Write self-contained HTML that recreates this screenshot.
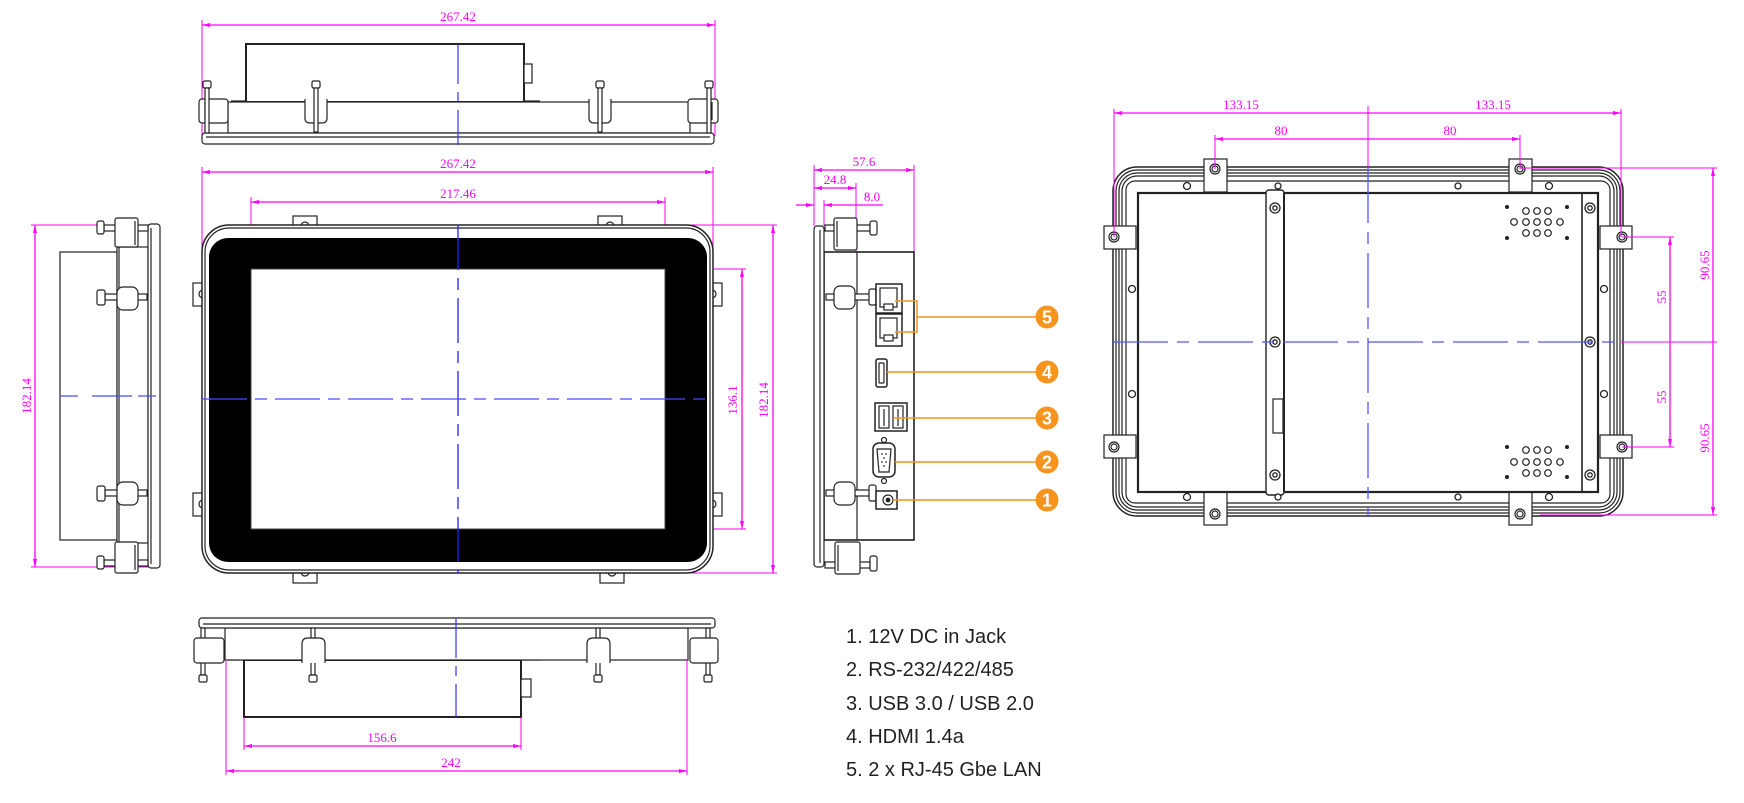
<!DOCTYPE html>
<html><head><meta charset="utf-8">
<style>
html,body{margin:0;padding:0;background:#fff;}
svg{display:block}
.d{font-family:"Liberation Serif",serif;font-size:13px;fill:#ff00ff;}
.lg{font-family:"Liberation Sans",sans-serif;font-size:20px;fill:#231f20;}
.n{font-family:"Liberation Sans",sans-serif;font-size:18px;font-weight:bold;fill:#fff;}
</style></head><body>
<svg width="1744" height="803" viewBox="0 0 1744 803" xmlns="http://www.w3.org/2000/svg">
<defs>
<marker id="a" markerWidth="8" markerHeight="6" refX="8" refY="3" orient="auto-start-reverse" markerUnits="userSpaceOnUse"><path d="M0,1 L8,3 L0,5 z" fill="#ff00ff"/></marker>
</defs>

<!-- ================= TOP VIEW ================= -->
<g fill="none" stroke="#ff00ff" stroke-width="1.3">
  <line x1="202" y1="25" x2="715" y2="25" marker-start="url(#a)" marker-end="url(#a)"/>
  <line x1="202" y1="20" x2="202" y2="136" stroke-width="1"/>
  <line x1="715" y1="20" x2="715" y2="136" stroke-width="1"/>
</g>
<text class="d" x="458" y="21" text-anchor="middle">267.42</text>
<g fill="#fff" stroke="#222" stroke-width="1.2">
  <rect x="246" y="44" width="278" height="58" stroke-width="2"/>
  <rect x="524" y="64" width="8" height="19"/>
  <line x1="231" y1="101" x2="246" y2="101"/>
  <line x1="524" y1="101" x2="540" y2="101"/>
  <rect x="228" y="102" width="462" height="31"/>
  <rect x="202" y="133" width="512" height="11" rx="3"/>
  <line x1="206" y1="137" x2="710" y2="137"/>
  <rect x="199" y="99" width="29" height="24" rx="3"/>
  <rect x="688" y="99" width="30" height="24" rx="3"/>
  <line x1="205" y1="102" x2="205" y2="120"/>
  <line x1="712" y1="102" x2="712" y2="120"/>
  <!-- clips -->
  <path d="M305,99 v19 q0,5 5,5 h12 q5,0 5,-5 v-19"/>
  <path d="M589,99 v19 q0,5 5,5 h12 q5,0 5,-5 v-19"/>
  <!-- screws -->
  <rect x="203" y="81" width="8" height="7" rx="1.5"/><rect x="205" y="88" width="4" height="45"/>
  <rect x="312" y="81" width="8" height="7" rx="1.5"/><rect x="314" y="88" width="4" height="44"/>
  <rect x="596" y="81" width="8" height="7" rx="1.5"/><rect x="598" y="88" width="4" height="44"/>
  <rect x="705" y="81" width="8" height="7" rx="1.5"/><rect x="707" y="88" width="4" height="45"/>
</g>
<line x1="458" y1="44" x2="458" y2="145" stroke="#3333ff" stroke-width="1.2" stroke-dasharray="40 8 10 8"/>

<!-- ================= FRONT VIEW ================= -->
<g fill="none" stroke="#ff00ff" stroke-width="1.3">
  <line x1="202" y1="172" x2="713" y2="172" marker-start="url(#a)" marker-end="url(#a)"/>
  <line x1="202" y1="167" x2="202" y2="252" stroke-width="1"/>
  <line x1="713" y1="167" x2="713" y2="252" stroke-width="1"/>
  <line x1="251" y1="202" x2="665" y2="202" marker-start="url(#a)" marker-end="url(#a)"/>
  <line x1="251" y1="197" x2="251" y2="269" stroke-width="1"/>
  <line x1="665" y1="197" x2="665" y2="269" stroke-width="1"/>
  <line x1="742" y1="269" x2="742" y2="529" marker-start="url(#a)" marker-end="url(#a)"/>
  <line x1="665" y1="269" x2="746" y2="269" stroke-width="1"/>
  <line x1="665" y1="529" x2="746" y2="529" stroke-width="1"/>
  <line x1="773" y1="225" x2="773" y2="573" marker-start="url(#a)" marker-end="url(#a)"/>
  <line x1="686" y1="225" x2="777" y2="225" stroke-width="1"/>
  <line x1="686" y1="573" x2="777" y2="573" stroke-width="1"/>
</g>
<text class="d" x="458" y="168" text-anchor="middle">267.42</text>
<text class="d" x="458" y="198" text-anchor="middle">217.46</text>
<text class="d" transform="translate(737,400) rotate(-90)" text-anchor="middle">136.1</text>
<text class="d" transform="translate(768,400) rotate(-90)" text-anchor="middle">182.14</text>
<g fill="#fff" stroke="#222" stroke-width="1.2">
  <!-- tabs -->
  <rect x="293" y="216" width="24" height="11"/><path d="M301,226 a4,4 0 0 1 8,0"/>
  <rect x="598" y="216" width="24" height="11"/><path d="M606,226 a4,4 0 0 1 8,0"/>
  <rect x="293" y="571" width="24" height="12"/><path d="M301,572 a4,4 0 0 0 8,0"/>
  <rect x="600" y="571" width="24" height="12"/><path d="M608,572 a4,4 0 0 0 8,0"/>
  <rect x="193" y="283" width="11" height="23"/><path d="M203,290 a4,4 0 0 0 0,8"/>
  <rect x="193" y="493" width="11" height="23"/><path d="M203,500 a4,4 0 0 0 0,8"/>
  <rect x="711" y="283" width="11" height="23"/><path d="M712,290 a4,4 0 0 1 0,8"/>
  <rect x="711" y="493" width="11" height="23"/><path d="M712,500 a4,4 0 0 1 0,8"/>
  <!-- frame -->
  <rect x="202" y="225" width="511" height="348" rx="27" stroke-width="1.5"/>
  <rect x="205" y="228" width="505" height="342" rx="24"/>
</g>
<rect x="209" y="238" width="498" height="324" rx="19" fill="#000"/>
<rect x="251" y="269" width="414" height="260" fill="#fff" stroke="#444" stroke-width="1"/>
<line x1="458" y1="225" x2="458" y2="573" stroke="#2222ff" stroke-width="1.3" stroke-dasharray="45 8 12 8"/>
<line x1="202" y1="399" x2="713" y2="399" stroke="#4a4aff" stroke-width="1.3" stroke-dasharray="45 8 12 8"/>

<!-- ================= LEFT SIDE VIEW ================= -->
<g fill="none" stroke="#ff00ff" stroke-width="1.3">
  <line x1="35" y1="225" x2="35" y2="567" marker-start="url(#a)" marker-end="url(#a)"/>
  <line x1="31" y1="225" x2="152" y2="225" stroke-width="1"/>
  <line x1="31" y1="567" x2="152" y2="567" stroke-width="1"/>
</g>
<text class="d" transform="translate(31,396) rotate(-90)" text-anchor="middle">182.14</text>
<g fill="#fff" stroke="#222" stroke-width="1.2">
  <rect x="60" y="252" width="57" height="288"/>
  <rect x="117" y="247" width="31" height="296"/>
  <line x1="119" y1="247" x2="119" y2="543"/>
  <rect x="148" y="224" width="12" height="344" rx="3"/>
  <line x1="151" y1="228" x2="151" y2="564"/>
  <!-- top bracket -->
  <rect x="104" y="225" width="44" height="6"/>
  <rect x="97" y="221" width="7" height="13" rx="2"/>
  <rect x="115" y="218" width="23" height="29" rx="2"/>
  <line x1="135" y1="221" x2="135" y2="245"/>
  <!-- bottom bracket -->
  <rect x="104" y="560" width="44" height="6"/>
  <rect x="97" y="556" width="7" height="13" rx="2"/>
  <rect x="115" y="542" width="23" height="31" rx="2"/>
  <line x1="135" y1="545" x2="135" y2="570"/>
  <!-- mid screws -->
  <rect x="105" y="294" width="42" height="6"/>
  <rect x="97" y="290" width="8" height="15" rx="2"/>
  <rect x="117" y="287" width="21" height="23" rx="6"/>
  <rect x="105" y="490" width="42" height="6"/>
  <rect x="97" y="486" width="8" height="15" rx="2"/>
  <rect x="117" y="482" width="21" height="23" rx="6"/>
</g>
<line x1="60" y1="396" x2="160" y2="396" stroke="#4a4aff" stroke-width="1.3" stroke-dasharray="18 14 40 6"/>

<!-- ================= RIGHT SIDE VIEW ================= -->
<g fill="none" stroke="#ff00ff" stroke-width="1.3">
  <line x1="814" y1="170" x2="914" y2="170" marker-start="url(#a)" marker-end="url(#a)"/>
  <line x1="814" y1="188" x2="856" y2="188" marker-start="url(#a)" marker-end="url(#a)"/>
  <line x1="796" y1="205" x2="814" y2="205" marker-end="url(#a)"/>
  <line x1="883" y1="205" x2="824" y2="205" marker-end="url(#a)"/>
  <line x1="814" y1="165" x2="814" y2="226" stroke-width="1"/>
  <line x1="824" y1="200" x2="824" y2="226" stroke-width="1"/>
  <line x1="856" y1="183" x2="856" y2="252" stroke-width="1"/>
  <line x1="914" y1="165" x2="914" y2="252" stroke-width="1"/>
</g>
<text class="d" x="864" y="166" text-anchor="middle">57.6</text>
<text class="d" x="835" y="184" text-anchor="middle">24.8</text>
<text class="d" x="872" y="201" text-anchor="middle">8.0</text>
<g fill="#fff" stroke="#222" stroke-width="1.2">
  <rect x="824" y="252" width="90" height="288" stroke-width="1.6"/>
  <line x1="857" y1="252" x2="857" y2="540"/>
  <rect x="814" y="226" width="10" height="341" rx="3"/>
  <line x1="820" y1="230" x2="820" y2="563"/>
  <!-- top bracket -->
  <rect x="825" y="225" width="45" height="6"/>
  <rect x="870" y="221" width="7" height="14" rx="2"/>
  <rect x="834" y="218" width="23" height="32" rx="2"/>
  <line x1="837" y1="221" x2="837" y2="247"/>
  <!-- bottom bracket -->
  <rect x="825" y="562" width="45" height="6"/>
  <rect x="870" y="556" width="7" height="15" rx="2"/>
  <rect x="835" y="542" width="25" height="32" rx="2"/>
  <line x1="838" y1="545" x2="838" y2="571"/>
  <!-- mid screws -->
  <rect x="826" y="294" width="46" height="6"/>
  <rect x="869" y="289" width="7" height="16" rx="2"/>
  <rect x="834" y="286" width="21" height="23" rx="6"/>
  <rect x="826" y="490" width="46" height="6"/>
  <rect x="869" y="485" width="7" height="16" rx="2"/>
  <rect x="834" y="482" width="21" height="23" rx="6"/>
  <!-- RJ45 -->
  <rect x="876" y="284" width="26" height="29" stroke-width="1.5"/>
  <rect x="880" y="288" width="17" height="19"/>
  <rect x="884" y="304" width="9" height="6"/>
  <rect x="876" y="314" width="26" height="32" stroke-width="1.5"/>
  <rect x="880" y="318" width="17" height="20"/>
  <rect x="884" y="335" width="9" height="6"/>
  <!-- HDMI -->
  <rect x="876" y="359" width="11" height="28" rx="2" stroke-width="1.5"/>
  <rect x="879" y="363" width="5" height="20" rx="1"/>
  <!-- USB -->
  <rect x="875" y="403" width="32" height="28" stroke-width="1.5"/>
  <rect x="879" y="406" width="10" height="22"/>
  <rect x="893" y="406" width="10" height="22"/>
  <line x1="884" y1="409" x2="884" y2="426"/>
  <line x1="898" y1="409" x2="898" y2="426"/>
  <!-- DB9 -->
  <circle cx="884" cy="440" r="2.5"/>
  <circle cx="884" cy="481" r="2.5"/>
  <rect x="873" y="443" width="22" height="34" rx="6" stroke-width="1.5"/>
  <path d="M877,449 L891,449 L889,472 L879,472 Z"/>
  <!-- DC -->
  <rect x="876" y="491" width="21" height="18" stroke-width="1.5"/>
  <circle cx="888" cy="500" r="5"/>
  <circle cx="888" cy="500" r="1.8" fill="#222"/>
</g>
<g fill="#333">
  <circle cx="882" cy="454" r="0.9"/><circle cx="886" cy="454" r="0.9"/><circle cx="884" cy="458" r="0.9"/>
  <circle cx="882" cy="462" r="0.9"/><circle cx="886" cy="462" r="0.9"/><circle cx="884" cy="466" r="0.9"/>
</g>

<!-- orange callouts -->
<g fill="none" stroke="#f7941d" stroke-width="1.6">
  <polyline points="895,301 917,301 917,332 895,332"/>
  <line x1="917" y1="317" x2="1037" y2="317"/>
  <line x1="887" y1="372" x2="1037" y2="372"/>
  <line x1="893" y1="418" x2="1037" y2="418"/>
  <line x1="895" y1="462" x2="1037" y2="462"/>
  <line x1="893" y1="500" x2="1037" y2="500"/>
</g>
<g fill="#f7941d">
  <circle cx="1047" cy="317" r="11.5"/>
  <circle cx="1047" cy="372" r="11.5"/>
  <circle cx="1047" cy="418" r="11.5"/>
  <circle cx="1047" cy="462" r="11.5"/>
  <circle cx="1047" cy="500" r="11.5"/>
</g>
<text class="n" x="1047" y="323.5" text-anchor="middle">5</text>
<text class="n" x="1047" y="378.5" text-anchor="middle">4</text>
<text class="n" x="1047" y="424.5" text-anchor="middle">3</text>
<text class="n" x="1047" y="468.5" text-anchor="middle">2</text>
<text class="n" x="1047" y="506.5" text-anchor="middle">1</text>

<!-- ================= BOTTOM VIEW ================= -->
<g fill="#fff" stroke="#222" stroke-width="1.2">
  <rect x="244" y="660" width="277" height="57" stroke-width="2"/>
  <rect x="521" y="679" width="10" height="18"/>
  <line x1="228" y1="660" x2="244" y2="660"/>
  <line x1="521" y1="660" x2="540" y2="660"/>
  <rect x="225" y="628" width="463" height="32"/>
  <rect x="199" y="618" width="516" height="10" rx="3"/>
  <line x1="203" y1="624" x2="711" y2="624"/>
  <!-- screws -->
  <rect x="201" y="628" width="4" height="47"/><rect x="199" y="675" width="8" height="7" rx="1.5"/>
  <rect x="311" y="628" width="4" height="47"/><rect x="309" y="675" width="8" height="7" rx="1.5"/>
  <rect x="596" y="628" width="4" height="47"/><rect x="594" y="675" width="8" height="7" rx="1.5"/>
  <rect x="706" y="628" width="4" height="47"/><rect x="704" y="675" width="8" height="7" rx="1.5"/>
  <rect x="194" y="638" width="30" height="25" rx="3"/>
  <rect x="690" y="638" width="28" height="25" rx="3"/>
  <path d="M302,663 v-19 q0,-6 6,-6 h11 q6,0 6,6 v19"/>
  <path d="M587,663 v-19 q0,-6 6,-6 h11 q6,0 6,6 v19"/>
</g>
<line x1="456" y1="618" x2="456" y2="717" stroke="#3333ff" stroke-width="1.2" stroke-dasharray="40 8 10 8"/>
<g fill="none" stroke="#ff00ff" stroke-width="1.3">
  <line x1="244" y1="746" x2="521" y2="746" marker-start="url(#a)" marker-end="url(#a)"/>
  <line x1="244" y1="717" x2="244" y2="750" stroke-width="1"/>
  <line x1="521" y1="717" x2="521" y2="750" stroke-width="1"/>
  <line x1="226" y1="771" x2="687" y2="771" marker-start="url(#a)" marker-end="url(#a)"/>
  <line x1="226" y1="660" x2="226" y2="775" stroke-width="1"/>
  <line x1="687" y1="660" x2="687" y2="775" stroke-width="1"/>
</g>
<text class="d" x="382" y="742" text-anchor="middle">156.6</text>
<text class="d" x="451" y="767" text-anchor="middle">242</text>

<!-- ================= LEGEND ================= -->
<text class="lg" x="846" y="643">1. 12V DC in Jack</text>
<text class="lg" x="846" y="676">2. RS-232/422/485</text>
<text class="lg" x="846" y="710">3. USB 3.0 / USB 2.0</text>
<text class="lg" x="846" y="743">4. HDMI 1.4a</text>
<text class="lg" x="846" y="776">5. 2 x RJ-45 Gbe LAN</text>

<!-- ================= REAR VIEW ================= -->
<g fill="none" stroke="#222" stroke-width="1.2">
  <rect x="1113" y="167" width="510" height="349" rx="24" stroke-width="1.5"/>
  <rect x="1116" y="170" width="504" height="343" rx="21"/>
  <rect x="1119" y="173" width="498" height="337" rx="18"/>
  <rect x="1122" y="176" width="492" height="331" rx="15"/>
  <rect x="1126" y="181" width="484" height="322" rx="9"/>
</g>
<g fill="#fff" stroke="#222" stroke-width="1.2">
  <!-- tabs -->
  <rect x="1204" y="159" width="23" height="33"/><circle cx="1215" cy="169" r="5"/><circle cx="1215" cy="169" r="3"/>
  <rect x="1509" y="159" width="23" height="33"/><circle cx="1520" cy="169" r="5"/><circle cx="1520" cy="169" r="3"/>
  <rect x="1204" y="492" width="23" height="33"/><circle cx="1215" cy="514" r="5"/><circle cx="1215" cy="514" r="3"/>
  <rect x="1509" y="492" width="23" height="33"/><circle cx="1520" cy="514" r="5"/><circle cx="1520" cy="514" r="3"/>
  <rect x="1104" y="226" width="32" height="23"/><circle cx="1114" cy="237" r="5"/><circle cx="1114" cy="237" r="3"/>
  <rect x="1104" y="435" width="32" height="23"/><circle cx="1114" cy="447" r="5"/><circle cx="1114" cy="447" r="3"/>
  <rect x="1600" y="226" width="32" height="23"/><circle cx="1622" cy="237" r="5"/><circle cx="1622" cy="237" r="3"/>
  <rect x="1600" y="435" width="32" height="23"/><circle cx="1622" cy="447" r="5"/><circle cx="1622" cy="447" r="3"/>
  <!-- panel -->
  <rect x="1138" y="193" width="460" height="299" stroke-width="2.2"/>
  <line x1="1582" y1="193" x2="1582" y2="492" stroke-width="1.6"/>
  <rect x="1266" y="190" width="18" height="305" rx="3" stroke-width="1.4"/>
  <line x1="1284" y1="193" x2="1284" y2="492" stroke-width="2"/>
  <rect x="1273" y="399" width="10" height="34"/>
</g>
<g fill="#fff" stroke="#222" stroke-width="1.3">
  <circle cx="1275" cy="208" r="5"/><circle cx="1275" cy="208" r="2.2"/>
  <circle cx="1275" cy="342" r="5"/><circle cx="1275" cy="342" r="2.2"/>
  <circle cx="1275" cy="475" r="5"/><circle cx="1275" cy="475" r="2.2"/>
  <circle cx="1590" cy="208" r="5"/><circle cx="1590" cy="208" r="2.2"/>
  <circle cx="1590" cy="342" r="5"/><circle cx="1590" cy="342" r="2.2"/>
  <circle cx="1590" cy="475" r="5"/><circle cx="1590" cy="475" r="2.2"/>
  <circle cx="1187" cy="186" r="3.5"/><circle cx="1549" cy="186" r="3.5"/>
  <circle cx="1187" cy="497" r="3.5"/><circle cx="1549" cy="497" r="3.5"/>
  <circle cx="1132" cy="289" r="3.5"/><circle cx="1132" cy="394" r="3.5"/>
  <circle cx="1604" cy="289" r="3.5"/><circle cx="1604" cy="394" r="3.5"/>
  <circle cx="1278" cy="186" r="3"/><circle cx="1458" cy="186" r="3"/>
  <circle cx="1278" cy="497" r="3"/><circle cx="1458" cy="497" r="3"/>
</g>
<!-- vents -->
<g fill="#222">
  <circle cx="1507" cy="207" r="2"/><circle cx="1567" cy="207" r="2"/><circle cx="1507" cy="238" r="2"/><circle cx="1567" cy="238" r="2"/>
  <circle cx="1507" cy="447" r="2"/><circle cx="1567" cy="447" r="2"/><circle cx="1507" cy="477" r="2"/><circle cx="1567" cy="477" r="2"/>
</g>
<g fill="none" stroke="#222" stroke-width="1.2">
  <circle cx="1526" cy="211" r="3.3"/><circle cx="1537" cy="211" r="3.3"/><circle cx="1548" cy="211" r="3.3"/>
  <circle cx="1514" cy="222" r="3.3"/><circle cx="1526" cy="222" r="3.3"/><circle cx="1537" cy="222" r="3.3"/><circle cx="1548" cy="222" r="3.3"/><circle cx="1560" cy="222" r="3.3"/>
  <circle cx="1526" cy="233" r="3.3"/><circle cx="1537" cy="233" r="3.3"/><circle cx="1548" cy="233" r="3.3"/>
  <circle cx="1526" cy="450" r="3.3"/><circle cx="1537" cy="450" r="3.3"/><circle cx="1548" cy="450" r="3.3"/>
  <circle cx="1514" cy="462" r="3.3"/><circle cx="1526" cy="462" r="3.3"/><circle cx="1537" cy="462" r="3.3"/><circle cx="1548" cy="462" r="3.3"/><circle cx="1560" cy="462" r="3.3"/>
  <circle cx="1526" cy="473" r="3.3"/><circle cx="1537" cy="473" r="3.3"/><circle cx="1548" cy="473" r="3.3"/>
</g>
<line x1="1113" y1="342" x2="1621" y2="342" stroke="#5555ff" stroke-width="1.3" stroke-dasharray="55 9 12 9"/>
<line x1="1368" y1="168" x2="1368" y2="516" stroke="#5555ff" stroke-width="1.3" stroke-dasharray="55 9 12 9"/>

<!-- rear dims -->
<g fill="none" stroke="#ff00ff" stroke-width="1.3">
  <line x1="1114" y1="113" x2="1368" y2="113" marker-start="url(#a)"/>
  <line x1="1368" y1="113" x2="1621" y2="113" marker-end="url(#a)"/>
  <line x1="1368" y1="106" x2="1368" y2="168" stroke-width="1"/>
  <line x1="1114" y1="109" x2="1114" y2="237" stroke-width="1"/>
  <line x1="1621" y1="109" x2="1621" y2="237" stroke-width="1"/>
  <line x1="1215" y1="139" x2="1520" y2="139" marker-start="url(#a)" marker-end="url(#a)"/>
  <line x1="1215" y1="135" x2="1215" y2="169" stroke-width="1"/>
  <line x1="1520" y1="135" x2="1520" y2="169" stroke-width="1"/>
  <line x1="1713" y1="168" x2="1713" y2="342" marker-start="url(#a)"/>
  <line x1="1713" y1="342" x2="1713" y2="515" marker-end="url(#a)"/>
  <line x1="1520" y1="168" x2="1717" y2="168" stroke-width="1"/>
  <line x1="1540" y1="515" x2="1717" y2="515" stroke-width="1"/>
  <line x1="1621" y1="342" x2="1717" y2="342" stroke-width="1"/>
  <line x1="1670" y1="237" x2="1670" y2="447" marker-start="url(#a)" marker-end="url(#a)"/>
  <line x1="1622" y1="237" x2="1674" y2="237" stroke-width="1"/>
  <line x1="1622" y1="447" x2="1674" y2="447" stroke-width="1"/>
</g>
<text class="d" x="1241" y="109" text-anchor="middle">133.15</text>
<text class="d" x="1493" y="109" text-anchor="middle">133.15</text>
<text class="d" x="1281" y="135" text-anchor="middle">80</text>
<text class="d" x="1450" y="135" text-anchor="middle">80</text>
<text class="d" transform="translate(1709,265) rotate(-90)" text-anchor="middle">90.65</text>
<text class="d" transform="translate(1709,438) rotate(-90)" text-anchor="middle">90.65</text>
<text class="d" transform="translate(1666,297) rotate(-90)" text-anchor="middle">55</text>
<text class="d" transform="translate(1666,397) rotate(-90)" text-anchor="middle">55</text>
</svg>
</body></html>
